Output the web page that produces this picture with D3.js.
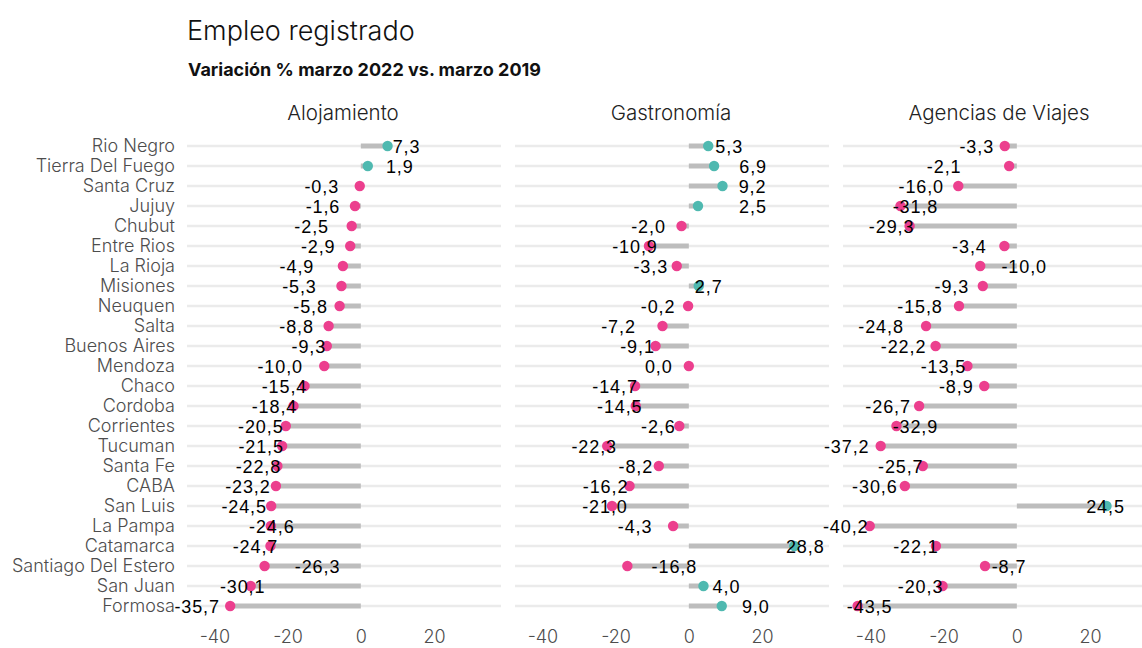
<!DOCTYPE html>
<html>
<head>
<meta charset="utf-8">
<script src="https://cdn.jsdelivr.net/npm/d3@7"></script>
<style>
  html, body { margin: 0; padding: 0; background: #ffffff; }
  svg { display: block; }
</style>
</head>
<body>
<svg id="chart" width="1142" height="648"></svg>
<script>
// ---------- DATA ----------
const provinces = ["Rio Negro", "Tierra Del Fuego", "Santa Cruz", "Jujuy", "Chubut", "Entre Rios",
  "La Rioja", "Misiones", "Neuquen", "Salta", "Buenos Aires", "Mendoza", "Chaco", "Cordoba",
  "Corrientes", "Tucuman", "Santa Fe", "CABA", "San Luis", "La Pampa", "Catamarca",
  "Santiago Del Estero", "San Juan", "Formosa"];
const panelNames = ["Alojamiento", "Gastronomía", "Agencias de Viajes"];
const alojamiento = [7.3, 1.9, -0.3, -1.6, -2.5, -2.9, -4.9, -5.3, -5.8, -8.8, -9.3, -10.0,
  -15.4, -18.4, -20.5, -21.5, -22.8, -23.2, -24.5, -24.6, -24.7, -26.3, -30.1, -35.7];
const gastronomia = [5.3, 6.9, 9.2, 2.5, -2.0, -10.9, -3.3, 2.7, -0.2, -7.2, -9.1, 0.0,
  -14.7, -14.5, -2.6, -22.3, -8.2, -16.2, -21.0, -4.3, 28.8, -16.8, 4.0, 9.0];
const agencias = [-3.3, -2.1, -16.0, -31.8, -29.3, -3.4, -10.0, -9.3, -15.8, -24.8, -22.2, -13.5,
  -8.9, -26.7, -32.9, -37.2, -25.7, -30.6, 24.5, -40.2, -22.1, -8.7, -20.3, -43.5];
const xTicks = [-40, -20, 0, 20];
const titleText = "Empleo registrado";
const subtitleText = "Variación % marzo 2022 vs. marzo 2019";

// ---------- LAYOUT (label repel offsets, px, relative to point) ----------
const labelDxA = [19, 32, -38, -32, -40, -32, -46, -42, -29, -32, -18, -44, -20, -19, -25, -21, -19, -28, -27, 1, -15, 53, -8, -33];
const labelDxG = [21, 39, 30, 55, -33, -14, -26, 10, -30, -44, -18, -30, -20, -16, -21, -13, -23, -24, -7, -38, 11, 47, 23, 34];
const labelDxV = [-28, -65, -37, 15, -18, -35, 44, -31, -39, -45, -32, -24, -28, -31, 19, -34, -22, -30, -1, -24, -20, 24, -22, 12];

const series = [alojamiento, gastronomia, agencias];
const labelDx = [labelDxA, labelDxG, labelDxV];

const panelLeft0 = 187, panelW = 314, panelStep = 328;
const domain = [-47.5, 38.3];
const rowTop = 146, rowBottom = 606;

const svg = d3.select("#chart");
const uiFont = "Inter, Lato, sans-serif";
const valFont = "'Liberation Sans', Arial, sans-serif";

const pos = "#4fb9b0", neg = "#ec3f8e";

const y = d3.scalePoint().domain(provinces).range([rowTop, rowBottom]);

// Titles
svg.append("text").attr("x", 187).attr("y", 40)
  .attr("font-family", uiFont).attr("font-weight", 300).attr("font-size", 27)
  .attr("fill", "#111").text(titleText);
svg.append("text").attr("x", 188).attr("y", 76)
  .attr("font-family", uiFont).attr("font-weight", 700).attr("font-size", 18)
  .attr("fill", "#111").text(subtitleText);

// Y labels
svg.append("g").selectAll("text").data(provinces).join("text")
  .attr("x", 175).attr("y", d => y(d))
  .attr("dy", "0.36em")
  .attr("text-anchor", "end")
  .attr("font-family", uiFont).attr("font-weight", 300).attr("font-size", 18)
  .attr("fill", "#4d4d4d").text(d => d);

const fmt = v => v.toFixed(1).replace(".", ",");

panelNames.forEach((name, p) => {
  const x0 = panelLeft0 + p * panelStep;
  const x = d3.scaleLinear().domain(domain).range([x0, x0 + panelW]);
  const g = svg.append("g");
  const vals = series[p];
  const rows = provinces.map((prov, i) => ({ prov, v: vals[i], dx: labelDx[p][i] }));

  // facet title
  g.append("text").attr("x", x0 + panelW / 2 - 1).attr("y", 120)
    .attr("text-anchor", "middle")
    .attr("font-family", uiFont).attr("font-weight", 300).attr("font-size", 20.5)
    .attr("fill", "#222").text(name);

  // gridlines
  g.selectAll("line.grid").data(provinces).join("line").attr("class", "grid")
    .attr("x1", x0).attr("x2", x0 + panelW)
    .attr("y1", d => y(d)).attr("y2", d => y(d))
    .attr("stroke", "#ebebeb").attr("stroke-width", 2.5);

  // bars
  g.selectAll("line.bar").data(rows).join("line").attr("class", "bar")
    .attr("x1", x(0)).attr("x2", d => x(d.v))
    .attr("y1", d => y(d.prov)).attr("y2", d => y(d.prov))
    .attr("stroke", "#bdbdbd").attr("stroke-width", 5);

  // points
  g.selectAll("circle").data(rows).join("circle")
    .attr("cx", d => x(d.v)).attr("cy", d => y(d.prov)).attr("r", 5.2)
    .attr("fill", d => d.v > 0 ? pos : neg);

  // value labels
  g.selectAll("text.val").data(rows).join("text").attr("class", "val")
    .attr("x", d => x(d.v) + d.dx).attr("y", d => y(d.prov) + 1)
    .attr("dy", "0.36em")
    .attr("text-anchor", "middle")
    .attr("font-family", valFont).attr("font-size", 18)
    .attr("letter-spacing", 0.9)
    .attr("fill", "#000").text(d => fmt(d.v));

  // x axis
  const axis = d3.axisBottom(x).tickValues(xTicks).tickSize(0).tickPadding(0)
    .tickFormat(d => String(d));
  const ag = g.append("g").attr("transform", `translate(0, 631)`).call(axis);
  ag.select(".domain").remove();
  ag.selectAll("text").attr("font-family", uiFont).attr("font-weight", 300).attr("font-size", 18)
    .attr("fill", "#4d4d4d").attr("dy", "0.36em").attr("y", 6);
});
</script>
</body>
</html>
